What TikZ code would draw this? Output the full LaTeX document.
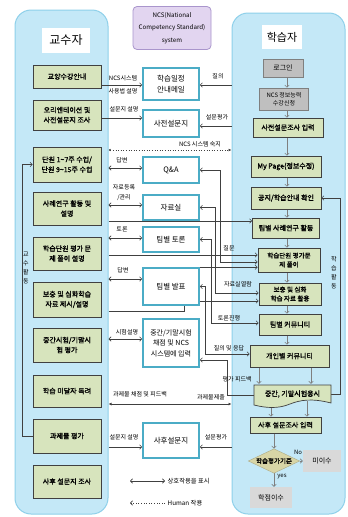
\documentclass[tikz,border=0pt]{standalone}
\usepackage{fontspec}
\setmainfont{Noto Sans CJK KR}[AutoFakeBold=1.5]
\usetikzlibrary{arrows.meta,shapes.geometric}
\definecolor{panelfill}{HTML}{C4E8F7}
\definecolor{paneldraw}{HTML}{8ED0EA}
\definecolor{olivebox}{HTML}{D7E4BD}
\definecolor{tealB}{HTML}{4BACC6}
\definecolor{purpfill}{HTML}{E2D5F0}
\definecolor{purpdraw}{HTML}{A995CC}
\definecolor{greybox}{HTML}{BFBFBF}
\definecolor{lightgreyB}{HTML}{D9D9D9}
\definecolor{tanbox}{HTML}{D8D5A6}
\definecolor{lnc}{HTML}{404040}
\definecolor{gln}{HTML}{7F7F7F}
\pgfdeclarelayer{panel}\pgfdeclarelayer{lines}
\pgfsetlayers{panel,lines,main}
\tikzset{
  panel/.style={draw=paneldraw, line width=1pt, fill=panelfill, rounded corners=16pt},
  titlebox/.style={fill=white, inner sep=0pt},
  obox/.style={draw=lnc, line width=0.7pt, fill=olivebox, inner sep=1pt, align=center, font=\fontsize{7}{10}\selectfont\bfseries},
  cbox/.style={draw=tealB, line width=1.6pt, fill=white, inner sep=1pt, align=center, font=\fontsize{7.5}{10.5}\selectfont},
  gbox/.style={draw=gln, line width=0.7pt, fill=greybox, inner sep=1pt, align=center, font=\fontsize{6.5}{9}\selectfont},
  lgbox/.style={fill=lightgreyB, inner sep=1pt, align=center, font=\fontsize{7}{9}\selectfont},
  lbl/.style={font=\fontsize{6}{7}\selectfont, inner sep=0.5pt, align=center},
  vlbl/.style={font=\fontsize{6}{9}\selectfont, inner sep=0.5pt, align=center},
  ln/.style={draw=lnc, line width=0.6pt},
  tipE/.style={-{Straight Barb[length=2.2pt,width=4.5pt]}},
  tipB/.style={{Straight Barb[length=2.2pt,width=4.5pt]}-{Straight Barb[length=2.2pt,width=4.5pt]}},
  garr/.style={draw=gln, line width=0.6pt, -{Straight Barb[length=2.2pt,width=4.5pt]}},
}
\begin{document}
\begin{tikzpicture}[x=1pt,y=-1pt]
\useasboundingbox (0,0) rectangle (348,517);

% panels
\begin{pgfonlayer}{panel}
\fill[white] (0,0) rectangle (348,517);
\node[panel, minimum width=93, minimum height=504] (LP) at (61.5,262) {};
\node[panel, minimum width=113, minimum height=501] (RP) at (288.5,263.5) {};
\end{pgfonlayer}

% titles
\node[titlebox, minimum width=48, minimum height=25, font=\fontsize{12}{12}\selectfont] (TL) at (66,40.5) {교수자};
\node[titlebox, minimum width=40, minimum height=24, font=\fontsize{11}{11}\selectfont] (TR) at (282,37) {학습자};

% NCS box
\node[draw=purpdraw, fill=purpfill, line width=0.8pt, rounded corners=4pt, minimum width=78, minimum height=43, align=center, inner sep=0pt, font=\fontsize{6.2}{12.5}\selectfont] (NCS) at (172,28) {NCS(National\\Competency Standard)\\system};

% left boxes
\node[obox, minimum width=68, minimum height=23] (L1) at (67,76.5) {교양수강안내};
\node[obox, minimum width=68, minimum height=30] (L2) at (67,115) {오리엔테이션 및\\사전설문지 조사};
\node[obox, minimum width=68, minimum height=35] (L3) at (67,164.5) {단원 1\textasciitilde7주 수업/\\단원 9\textasciitilde15주 수업};
\node[obox, minimum width=68, minimum height=33] (L4) at (67,208.5) {사례연구 활동 및\\설명};
\node[obox, minimum width=68, minimum height=33] (L5) at (67,253.5) {학습단원 평가 문\\제 풀이 설명};
\node[obox, minimum width=68, minimum height=35] (L6) at (67,299.5) {보충 및 심화학습\\자료 제시/설명};
\node[obox, minimum width=68, minimum height=34] (L7) at (67,345) {중간시험/기말시\\험 평가};
\node[obox, minimum width=68, minimum height=32] (L8) at (67,391) {학습 미달자 독려};
\node[obox, minimum width=68, minimum height=34] (L9) at (67,436) {과제물 평가};
\node[obox, minimum width=68, minimum height=33] (L10) at (67,481.5) {사후 설문지 조사};

% center boxes
\node[cbox, minimum width=56, minimum height=32] (C1) at (171,84) {학습일정\\안내메일};
\node[cbox, minimum width=56, minimum height=27] (C2) at (171,123.5) {사전설문지};
\node[cbox, minimum width=56, minimum height=26] (C3) at (171,170) {Q\&A};
\node[cbox, minimum width=56, minimum height=25] (C4) at (171,207.5) {자료실};
\node[cbox, minimum width=56, minimum height=25] (C5) at (171,239.5) {팀별 토론};
\node[cbox, minimum width=56, minimum height=37] (C6) at (171,286.5) {팀별 발표};
\node[cbox, minimum width=56, minimum height=48, font=\fontsize{7}{10.5}\selectfont] (C7) at (171,343) {중간/기말시험\\채점 및 NCS\\시스템에 입력};
\node[cbox, minimum width=56, minimum height=35] (C8) at (171,440.5) {사후설문지};

% right boxes
\node[gbox, minimum width=40, minimum height=18, font=\fontsize{7}{9}\selectfont] (R1) at (283,68) {로그인};
\node[gbox, minimum width=49, minimum height=22, font=\fontsize{6}{8.5}\selectfont] (R2) at (284,99) {NCS 정보능력\\수강신청};
\node[obox, minimum width=70, minimum height=19] (R3) at (288,127.5) {사전설문조사 입력};
\node[obox, minimum width=70, minimum height=21] (R4) at (286,166.5) {My Page(정보수정)};
\node[obox, minimum width=70, minimum height=22] (R5) at (286,198) {공지/학습안내 확인};
\node[obox, minimum width=67, minimum height=20] (R6) at (286,228) {팀별 사례연구 활동};
\node[obox, minimum width=62, minimum height=24, font=\fontsize{6.5}{9}\selectfont\bfseries] (R7) at (289,260) {학습단원 평가문\\제 풀이};
\node[obox, minimum width=62, minimum height=22, font=\fontsize{6.5}{9}\selectfont\bfseries] (R8) at (290,294) {보충 및 심화\\학습 자료 활용};
\node[obox, minimum width=62, minimum height=21] (R9) at (290,324.5) {팀별 커뮤니티};
\node[obox, minimum width=79, minimum height=22] (R10) at (289.5,356) {개인별 커뮤니티};
\filldraw[draw=lnc, line width=0.7pt, fill=olivebox] (254,385) -- (331,385) -- (331,403) .. controls (312,398) and (300,400) .. (290,404) .. controls (278,409) and (266,408) .. (254,405) -- cycle;
\node[inner sep=1pt, minimum width=77, minimum height=20, font=\fontsize{7}{9}\selectfont\bfseries] (R11) at (292.5,394) {중간, 기말시험응시};
\node[obox, minimum width=71, minimum height=16] (R12) at (285.5,425) {사후 설문조사 입력};
\node[diamond, aspect=2.1, fill=tanbox, draw=tanbox!80!black, line width=0.4pt, inner sep=0.5pt, minimum width=46, minimum height=22, font=\fontsize{6.5}{8}\selectfont\bfseries] (D) at (274,461) {학습평가기준};
\node[lgbox, minimum width=38, minimum height=22] (R13) at (322,461) {미이수};
\node[lgbox, minimum width=42, minimum height=21] (R14) at (271,497.5) {학점이수};

% helper coordinates
\coordinate (yA) at (0,85);
\coordinate (yB) at (0,118);
\coordinate (yC) at (0,168);
\coordinate (yD) at (0,205);
\coordinate (yE) at (0,238);
\coordinate (yF) at (0,279);
\coordinate (yG) at (0,339);
\coordinate (yH) at (0,447);
\coordinate (yI) at (0,126);
\coordinate (yN) at (0,150);
\coordinate (vQ) at (220,0);  \coordinate (yQ) at (0,262);
\coordinate (vR) at (215,0);  \coordinate (yR) at (0,293);
\coordinate (vT) at (211,0);  \coordinate (yT) at (0,323);
\coordinate (vU) at (205,0);  \coordinate (yU) at (0,354);
\coordinate (vV) at (227,0);  \coordinate (yV) at (0,395); \coordinate (yW) at (0,360);
\coordinate (yX) at (0,404);
\coordinate (yL1) at (0,221);
\coordinate (yL2) at (0,255);
\coordinate (vS) at (184,0); \coordinate (yL3) at (0,311); \coordinate (yL4) at (0,301);
\coordinate (fL) at (22,0);
\coordinate (fR) at (340,0);
\coordinate (col) at (287,0);
\coordinate (c259) at (259,0); \coordinate (c311) at (311,0);
\coordinate (c271) at (271,0); \coordinate (c307) at (307,0);

\begin{pgfonlayer}{lines}
% left panel to center
\draw[ln,tipE] (L1.east |- yA) -- (C1.west |- yA);
\draw[ln,tipE] (L2.east |- yB) -- (C2.west |- yB);
\draw[ln,tipB] (LP.east |- yC) -- (C3.west |- yC);
\draw[ln,tipB] (LP.east |- yD) -- (C4.west |- yD);
\draw[ln,tipB] (LP.east |- yE) -- (C5.west |- yE);
\draw[ln,tipB] (LP.east |- yF) -- (C6.west |- yF);
\draw[ln,tipB] (LP.east |- yG) -- (C7.west |- yG);
\draw[ln,tipE] (LP.east |- yH) -- (C8.west |- yH);
% right panel to center
\draw[ln,tipE] (RP.west |- yA) -- (C1.east |- yA);
\draw[ln,tipE] (RP.west |- yI) -- (C2.east |- yI);
\draw[ln,tipE] (RP.west |- yH) -- (C8.east |- yH);
\draw[ln,dotted,{Latex[length=2pt,width=2.5pt]}-{Latex[length=3pt,width=3pt]}] (LP.east |- yN) -- (RP.west |- yN);
% center to learner boxes
\draw[ln,tipB] (C3.east) -- (C3.east -| vQ) -- (vQ |- yQ) -- (R7.west |- yQ);
\draw[ln,tipB] (C4.east) -- (C4.east -| vR) -- (vR |- yR) -- (R8.west |- yR);
\draw[ln,tipB] (C5.east) -- (C5.east -| vT) -- (vT |- yT) -- (R9.west |- yT);
\draw[ln,tipB] (C6.east) -- (C6.east -| vU) -- (vU |- yU) -- (R10.west |- yU);
\draw[ln,tipE] (R11.west |- yV) -- (vV |- yV) -- (vV |- yW) -- (C7.east |- yW);
\draw[ln,tipE] (C6.north east) -- (R7.west |- C6.north east);
% left panel across to learner
\draw[ln,tipE] (LP.east |- yL1) -- (R6.west |- yL1);
\draw[ln,tipE] (LP.east |- yL2) -- (R7.west |- yL2);
\draw[ln,tipE] (LP.east |- yL3) -- (vS |- yL3) -- (vS |- yL4) -- (R8.west |- yL4);
% assignment line
\draw[ln,{Latex[length=3pt,width=3pt]}-{Latex[length=3pt,width=3pt]}] (LP.east |- yX) -- (RP.west |- yX);
% feedback loops
\draw[ln,tipE] (L9.west) -- (L9.west -| fL) -- (L3.west -| fL) -- (L3.west);
\draw[ln,tipE] (R11.east) -- (R11.east -| fR) -- (R5.east -| fR) -- (R5.east);
% learner flow
\foreach \a/\b in {R1/R2,R2/R3,R3/R4,R4/R5,R5/R6,R6/R7,R7/R8,R8/R9,R9/R10}
  \draw[garr] (\a.south -| col) -- (\b.north -| col);
\draw[garr] (R10.south -| c259) -- (R11.north -| c259);
\draw[garr] (R10.south -| c311) -- (R11.north -| c311);
\draw[garr] (R11.south -| c271) -- (R12.north -| c271);
\draw[garr] ([yshift=3pt]R11.south -| c307) -- (R12.north -| c307);
\draw[garr] (R12.south -| D.north) -- (D.north);
\draw[garr] (D.south) -- (R14.north -| D.south);
\draw[garr] (D.east) -- (R13.west);
\end{pgfonlayer}

% labels
\node[lbl] (t1) at (123,78) {NCS시스템};
\node[lbl] (t2) at (123,91) {사용법 설명};
\node[lbl] (t3) at (124,109) {설문지 설명};
\node[lbl] (t4) at (122,160) {답변};
\node[lbl, font=\fontsize{6}{10}\selectfont] (t5) at (124,193) {자료등록\\/관리};
\node[lbl] (t6) at (122,229) {토론};
\node[lbl] (t7) at (123,270) {답변};
\node[lbl] (t8) at (127,332) {시험설명};
\node[lbl] (t9) at (124,437) {설문지 설명};
\node[lbl] (t10) at (218,76) {질의};
\node[lbl] (t11) at (217,117) {설문평가};
\node[lbl] (t12) at (200,144) {NCS 시스템 숙지};
\node[lbl] (t13) at (229,248) {질문};
\node[lbl] (t14) at (238,284) {자료실열람};
\node[lbl] (t15) at (229,318) {토론진행};
\node[lbl] (t16) at (229,348) {질의 및 응답};
\node[lbl, anchor=west] (t17) at (222,379) {평가 피드백};
\node[lbl] (t18) at (140,394) {과제물 채점 및 피드백};
\node[lbl] (t19) at (211,397) {과제물제출};
\node[lbl] (t20) at (216,437) {설문평가};
\node[lbl, font=\fontsize{6}{7}\selectfont] (t21) at (298,452) {No};
\node[lbl, font=\fontsize{6}{7}\selectfont] (t22) at (282,477) {yes};
\node[vlbl, fill=panelfill] (t23) at (26,268) {교\\수\\활\\동};
\node[vlbl, fill=panelfill] (t24) at (334,273) {학\\습\\활\\동};

% legend
\coordinate (lg1a) at (130,481); \coordinate (lg1b) at (165,481);
\coordinate (lg2a) at (130,503); \coordinate (lg2b) at (165,503);
\draw[ln,tipB] (lg1a) -- (lg1b);
\draw[ln,dotted,tipE] (lg2b) -- (lg2a);
\node[lbl, anchor=west, font=\fontsize{6.3}{7}\selectfont] (lg1t) at (167,481) {상호작용을 표시};
\node[lbl, anchor=west, font=\fontsize{6.3}{7}\selectfont] (lg2t) at (167,503) {Human 작용};
\end{tikzpicture}
\end{document}
